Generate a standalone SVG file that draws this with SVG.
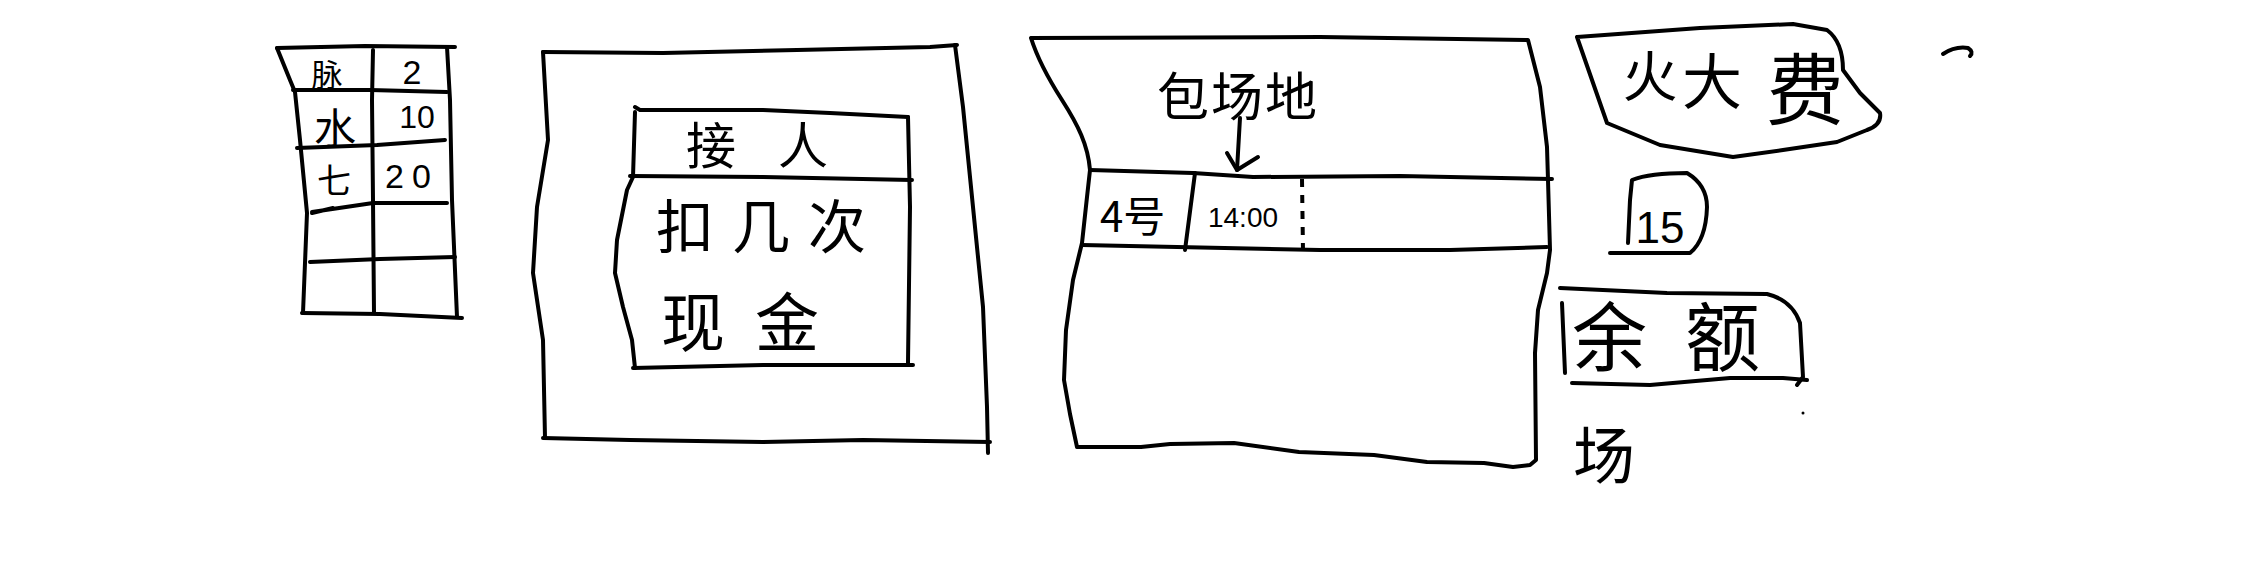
<svg xmlns="http://www.w3.org/2000/svg" width="2244" height="587" viewBox="0 0 2244 587">
<style>
.ln{fill:none;stroke:#000;stroke-width:4;stroke-linecap:round;stroke-linejoin:round}
.dash{fill:none;stroke:#000;stroke-width:4;stroke-dasharray:8 8}
.t{font-family:"Noto Sans CJK SC","Noto Sans",sans-serif;fill:#000;dominant-baseline:central}
.n{font-family:"Liberation Sans","Noto Sans",sans-serif;fill:#000;dominant-baseline:central;text-anchor:middle}
</style>
<rect width="2244" height="587" fill="#fff"/>

<g id="price-table">
<path class="ln" d="M277,48 L365,46 L455,47"/>
<path class="ln" d="M447,47 L450,100 L452,200 L457,317"/>
<path class="ln" d="M302,313 L380,314 L462,318"/>
<path class="ln" d="M277,48 L290,80 L295,92 L300,140 L307,213 L303,313"/>
<path class="ln" d="M373,50 L372,100 L373,200 L374,313"/>
<path class="ln" d="M293,90 L370,90 L447,92"/>
<path class="ln" d="M297,148 L377,145 L445,140"/>
<path class="ln" d="M333,208 L312,213 M312,212 L373,203 L447,203"/>
<path class="ln" d="M310,262 L380,259 L455,257"/>
<text class="t" x="327" y="72" font-size="31" text-anchor="middle">脉</text>
<text class="n" x="412" y="72" font-size="34">2</text>
<text class="t" x="335" y="125" font-size="42" text-anchor="middle">水</text>
<text class="n" x="417" y="117" font-size="32">10</text>
<text class="t" x="334" y="178" font-size="34" text-anchor="middle">七</text>
<text class="n" x="412" y="176" font-size="34" letter-spacing="8">20</text>
</g>

<g id="pickup-panel">
<path class="ln" d="M543,52 L663,53 L797,50 L930,47 L957,45"/>
<path class="ln" d="M955,45 L963,107 L973,207 L983,307 L987,407 L988,453"/>
<path class="ln" d="M543,438 L630,440 L763,442 L863,440 L990,442"/>
<path class="ln" d="M543,52 L548,140 L537,207 L533,273 L543,340 L545,438"/>
<g id="pickup-card">
<path class="ln" d="M635,107 L640,110 L763,110 L830,113 L908,117"/>
<path class="ln" d="M908,117 L910,207 L908,363"/>
<path class="ln" d="M633,368 L763,365 L913,365"/>
<path class="ln" d="M630,176 L763,177 L912,180"/>
<path class="ln" d="M635,112 L633,177 L627,190 L617,240 L615,273 L623,307 L632,340 L635,368"/>
<text class="t" x="686" y="142" font-size="50" letter-spacing="42">接人</text>
<text class="t" x="656" y="223" font-size="58" letter-spacing="18">扣几次</text>
<text class="t" x="661" y="318" font-size="64" letter-spacing="30">现金</text>
</g>
</g>

<g id="court-panel">
<path class="ln" d="M1031,38 L1320,37 L1528,40 L1540,87 L1547,147 L1548,180 L1550,250 L1547,273 L1538,310 L1535,353 L1536,460 L1530,465 L1513,467 L1484,463 L1427,462 L1374,455 L1299,452 L1234,443 L1170,444 L1141,447 L1077,447 L1070,414 L1064,380 L1066,330 L1073,280 L1082,243 L1087,197 L1090,170 C1088,145 1078,125 1062,100 S1037,57 1031,38 Z"/>
<path class="ln" d="M1090,170 L1193,173 L1253,177 L1400,176 L1552,179"/>
<path class="ln" d="M1082,245 L1320,250 L1450,250 L1547,247"/>
<path class="ln" d="M1195,173 L1185,250"/>
<path class="dash" d="M1302,179 L1303,252"/>
<text class="t" x="1100" y="213" font-size="42">4号</text>
<text class="n" x="1243" y="217" font-size="28">14:00</text>
<text class="t" x="1157" y="93" font-size="52" letter-spacing="2">包场地</text>
</g>

<g id="fee-badge">
<path class="ln" d="M1577,37 L1700,28 L1793,24 L1827,30 Q1843,42 1843,70 L1860,93 L1880,113 Q1882,125 1867,130 L1837,142 L1783,150 L1733,157 L1660,145 L1607,123 Z"/>
<text class="t" x="1650" y="72" font-size="55" text-anchor="middle">火</text>
<text class="t" x="1712" y="77" font-size="60" text-anchor="middle">大</text>
<text class="t" x="1805" y="85" font-size="78" text-anchor="middle">费</text>
</g>

<g id="count-badge">
<path class="ln" d="M1628,243 L1630,200 L1632,180 Q1650,173 1687,173 Q1707,185 1707,207 Q1706,240 1690,253 L1610,253"/>
<text class="n" x="1660" y="227" font-size="44">15</text>
</g>

<g id="balance-badge">
<path class="ln" d="M1560,288 L1667,293 L1767,294 Q1792,300 1800,323 L1803,377 L1797,385"/>
<path class="ln" d="M1562,303 L1565,373"/>
<path class="ln" d="M1572,383 L1650,385 L1730,378 L1783,378 L1807,380"/>
<text class="t" x="1572" y="332" font-size="75" letter-spacing="38">余额</text>
</g>

<g id="venue-label">
<text class="t" x="1604" y="452" font-size="62" text-anchor="middle">场</text>
</g>

<g id="marks">
<path class="ln" d="M1943,54 Q1955,46 1968,48 Q1974,52 1970,56"/>
<circle cx="1803" cy="413" r="1.5" fill="#000"/>
</g>

<g id="connectors">
<path class="ln" d="M1240,118 L1237,170"/>
<path class="ln" d="M1227,153 L1237,170 L1258,157"/>
</g>
</svg>
